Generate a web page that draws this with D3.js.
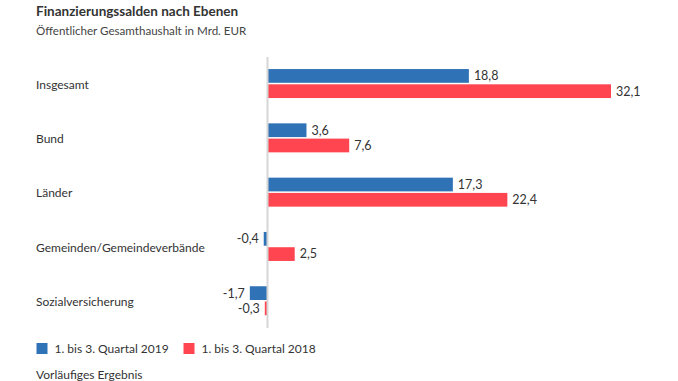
<!DOCTYPE html>
<html>
<head>
<meta charset="utf-8">
<script src="https://cdn.jsdelivr.net/npm/d3@7"></script>
<style>
  body { margin: 0; background: #fff; }
  text { font-family: Lato, "Open Sans", sans-serif; fill: #333; }
</style>
</head>
<body>
<div id="chart"></div>
<script>
// Data.
const categories = ["Insgesamt", "Bund", "Länder", "Gemeinden/Gemeindeverbände", "Sozialversicherung"];
const seriesNames = ["1. bis 3. Quartal 2019", "1. bis 3. Quartal 2018"];
const values2019 = [18.8, 3.6, 17.3, -0.4, -1.7];
const values2018 = [32.1, 7.6, 22.4, 2.5, -0.3];
const colors = ["#2f72b5", "#ff4650"];

const Width = 678;
const Height = 381;

const fmt = v => d3.format(".1f")(v).replace(".", ",").replace("−", "-");

const rows = categories.map((c, i) => ({
    category: c,
    values: [values2019[i], values2018[i]],
}));

const svg = d3.select("#chart")
    .append("svg")
        .attr("width", Width)
        .attr("height", Height);

// Scales.
const x = d3.scaleLinear()
    .domain([0, 32.1])
    .range([268, 611]);

const y = d3.scaleBand()
    .domain(categories)
    .range([56.4, 327.9])
    .paddingInner(0.466)
    .paddingOuter(0.233);

const ySub = d3.scaleBand()
    .domain([0, 1])
    .range([0, y.bandwidth()])
    .paddingInner(0.1);

// Title.
svg.append("text")
    .attr("x", 36)
    .attr("y", 15.5)
    .style("font-size", "13.5px")
    .style("font-weight", "bold")
    .text("Finanzierungssalden nach Ebenen");

svg.append("text")
    .attr("x", 36)
    .attr("y", 34.5)
    .style("font-size", "11.6px")
    .style("fill", "#444")
    .text("Öffentlicher Gesamthaushalt in Mrd. EUR");

// Category labels.
svg.append("g")
    .selectAll("text")
    .data(rows)
    .join("text")
        .attr("x", 36)
        .attr("y", d => y(d.category) + y.bandwidth() / 2 + 1)
        .attr("dy", "0.35em")
        .style("font-size", "12px")
        .text(d => d.category);

// Bars.
const groups = svg.append("g")
    .selectAll("g")
    .data(rows)
    .join("g")
        .attr("transform", d => `translate(0,${y(d.category)})`);

groups.selectAll("rect")
    .data(d => d.values)
    .join("rect")
        .attr("x", v => x(Math.min(0, v)))
        .attr("y", (v, i) => ySub(i))
        .attr("width", v => Math.abs(x(v) - x(0)))
        .attr("height", ySub.bandwidth())
        .attr("fill", (v, i) => colors[i]);

groups.selectAll("text")
    .data(d => d.values)
    .join("text")
        .attr("x", v => v >= 0 ? x(v) + 5 : x(v) - 5)
        .attr("y", (v, i) => ySub(i) + ySub.bandwidth() / 2)
        .attr("dy", "0.35em")
        .attr("text-anchor", v => v >= 0 ? "start" : "end")
        .style("font-size", "12.5px")
        .text(v => fmt(v));

// Zero line.
svg.append("line")
    .attr("x1", x(0) - 0.5)
    .attr("x2", x(0) - 0.5)
    .attr("y1", 57)
    .attr("y2", 328)
    .attr("stroke", "#d6d6d6")
    .attr("stroke-width", 2);

// Legend.
const legendX = [36.5, 183.5];
const legend = svg.append("g")
    .selectAll("g")
    .data(seriesNames)
    .join("g")
        .attr("transform", (d, i) => `translate(${legendX[i]},343)`);

legend.append("rect")
    .attr("width", 11)
    .attr("height", 11)
    .attr("fill", (d, i) => colors[i]);

legend.append("text")
    .attr("x", 18)
    .attr("y", 5.5)
    .attr("dy", "0.35em")
    .style("font-size", "12px")
    .text(d => d);

// Footnote.
svg.append("text")
    .attr("x", 36)
    .attr("y", 379)
    .style("font-size", "12px")
    .text("Vorläufiges Ergebnis");
</script>
</body>
</html>
